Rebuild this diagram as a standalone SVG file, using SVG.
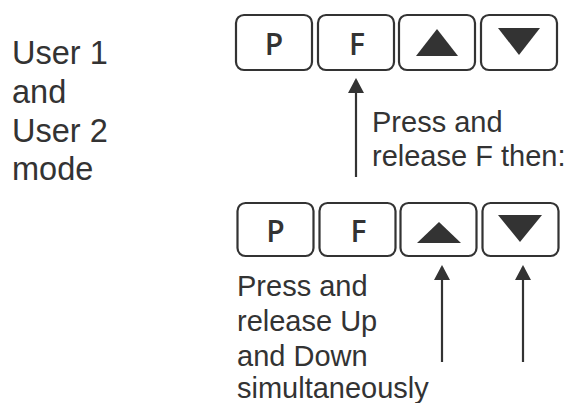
<svg xmlns="http://www.w3.org/2000/svg" width="570" height="403" viewBox="0 0 570 403">
<style>
.key{fill:#fff;stroke:#333;stroke-width:2.2}
.glyph{fill:#333}
.klabel{font-family:"Open Sans",sans-serif;font-weight:600;font-size:30px;fill:#333;text-anchor:middle}
.txt{font-family:"Liberation Sans",Arial,sans-serif;font-size:29px;fill:#333}
.big{font-family:"Liberation Sans",Arial,sans-serif;font-size:32.5px;fill:#333}
.conn{stroke:#333;stroke-width:2.2;fill:none}
</style>
<defs>
<marker id="ah" viewBox="0 0 15 16" refX="13" refY="8" markerWidth="15" markerHeight="16" markerUnits="userSpaceOnUse" orient="auto">
<path d="M0,0 L15,8 L0,16 Z" fill="#333"/>
</marker>
</defs>
<rect width="570" height="403" fill="#fff"/>
<g id="mode-label">
<text class="big" x="12" y="64">User 1</text>
<text class="big" x="12" y="103">and</text>
<text class="big" x="12" y="142">User 2</text>
<text class="big" x="12" y="180">mode</text>
</g>
<g id="top-P"><rect class="key" x="236" y="15" width="76" height="55" rx="8"/><text class="klabel" x="274" y="55">P</text></g>
<g id="top-F"><rect class="key" x="318" y="15" width="76" height="55" rx="8"/><text class="klabel" x="357" y="55">F</text></g>
<g id="top-up"><rect class="key" x="399" y="15" width="76" height="55" rx="8"/><path class="glyph" d="M416,56 L437,29 L458,56 Z"/></g>
<g id="top-down"><rect class="key" x="481" y="15" width="76" height="55" rx="8"/><path class="glyph" d="M498,28 L540,28 L519,55 Z"/></g>
<g id="bot-P"><rect class="key" x="237.5" y="203" width="76" height="53" rx="8"/><text class="klabel" x="275.5" y="242">P</text></g>
<g id="bot-F"><rect class="key" x="319.5" y="203" width="76" height="53" rx="8"/><text class="klabel" x="358.5" y="242">F</text></g>
<g id="bot-up"><rect class="key" x="400.5" y="203" width="76" height="53" rx="8"/><path class="glyph" d="M417,243 L439,222 L461,243 Z"/></g>
<g id="bot-down"><rect class="key" x="482.5" y="203" width="76" height="53" rx="8"/><path class="glyph" d="M498,215 L542,215 L520,242 Z"/></g>
<g id="label-F">
<text class="txt" x="372" y="132">Press and</text>
<text class="txt" x="372" y="166">release F then:</text>
</g>
<g id="label-updown">
<text class="txt" x="237" y="296">Press and</text>
<text class="txt" x="237" y="331">release Up</text>
<text class="txt" x="237" y="366">and Down</text>
<text class="txt" x="237" y="398">simultaneously</text>
</g>
<g id="connectors">
<path class="conn" d="M356,177 L356,80" marker-end="url(#ah)"/>
<path class="conn" d="M442,362 L442,267" marker-end="url(#ah)"/>
<path class="conn" d="M523,362 L523,267" marker-end="url(#ah)"/>
</g>
</svg>
